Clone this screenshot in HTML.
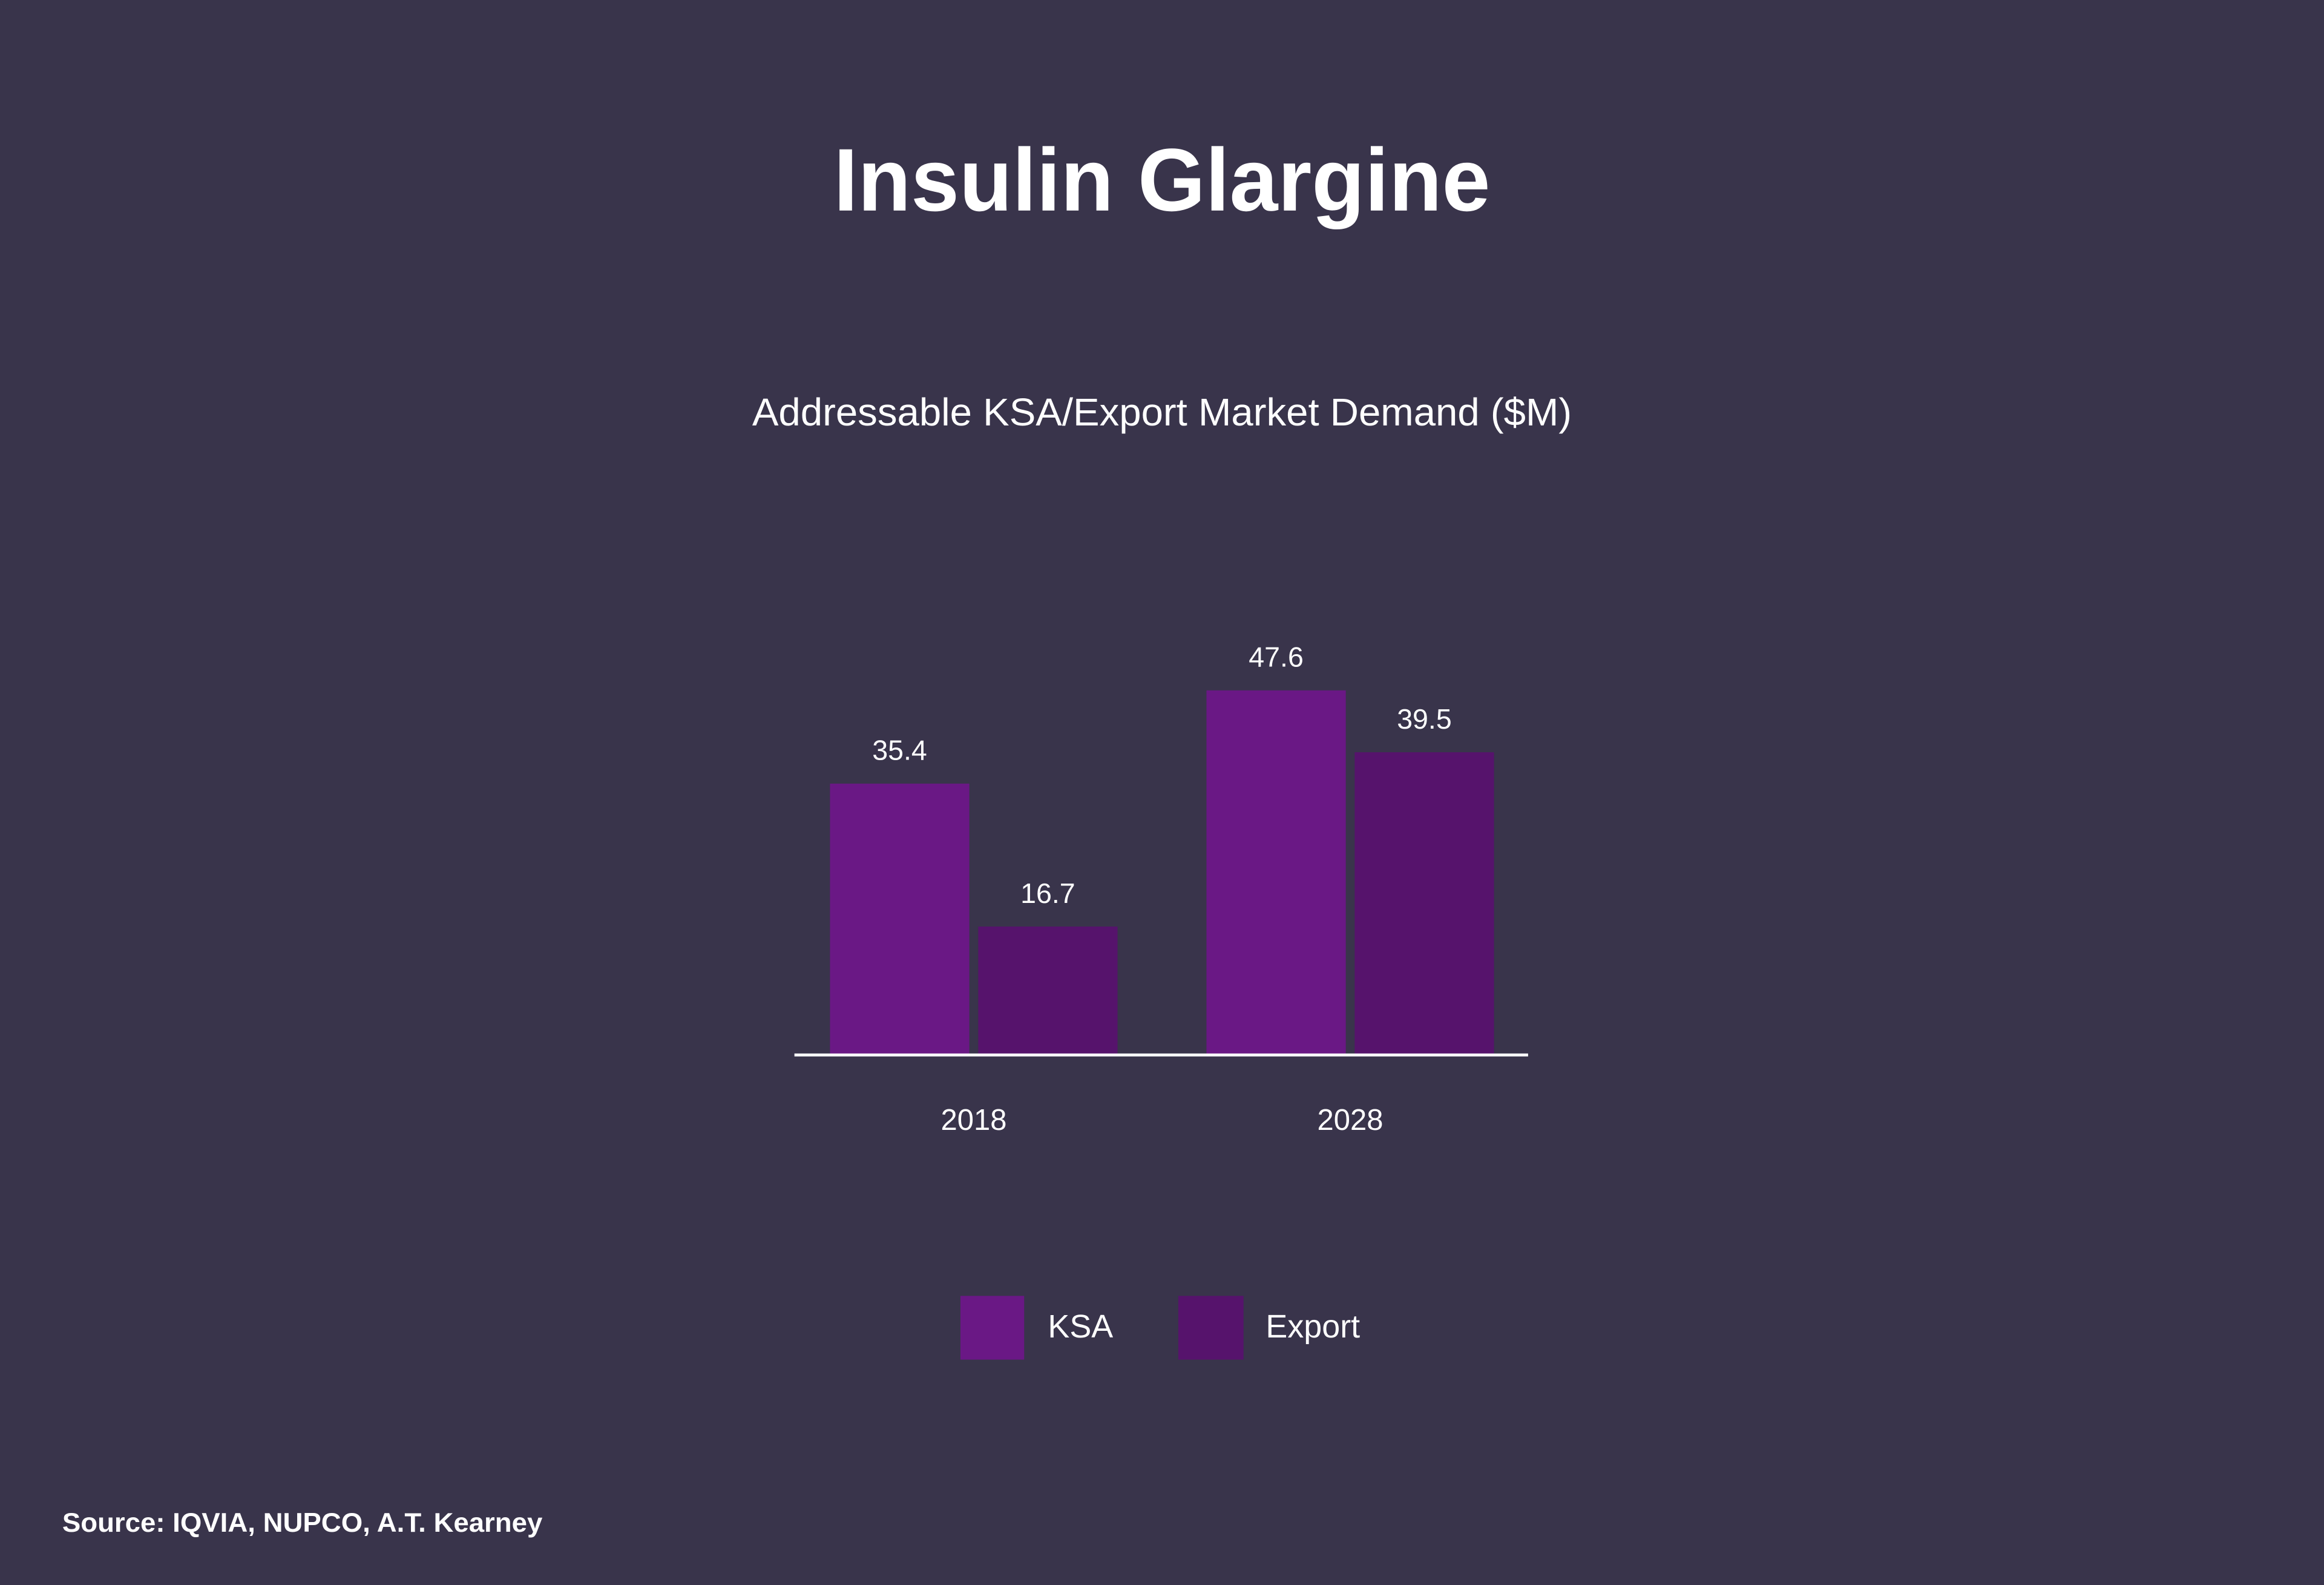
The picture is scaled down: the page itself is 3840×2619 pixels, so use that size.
<!DOCTYPE html>
<html><head><meta charset="utf-8"><style>
html,body{margin:0;padding:0;background:#39344b;}
svg{display:block;font-family:"Liberation Sans",sans-serif;}
</style></head><body>
<svg id="chart" width="3840" height="2619" viewBox="0 0 1568 1069" preserveAspectRatio="none" xmlns="http://www.w3.org/2000/svg">
<rect x="0" y="0" width="1568" height="1069" fill="#39344b"/>
<text x="784" y="142" text-anchor="middle" font-size="60" font-weight="bold" fill="#ffffff" textLength="443" lengthAdjust="spacingAndGlyphs">Insulin Glargine</text>
<text x="784" y="287" text-anchor="middle" font-size="26" fill="#ffffff" textLength="553" lengthAdjust="spacingAndGlyphs">Addressable KSA/Export Market Demand ($M)</text>
<g id="bars"></g>
<line x1="536" y1="711.5" x2="1031" y2="711.5" stroke="#ffffff" stroke-width="2"/>
<g id="legend">
<rect x="648" y="874" width="43" height="43" fill="#6a1885"/>
<text x="707" y="902" font-size="22" fill="#ffffff">KSA</text>
<rect x="795" y="874" width="44" height="43" fill="#56136c"/>
<text x="854" y="902" font-size="22" fill="#ffffff">Export</text>
</g>
<text x="42" y="1033" font-size="18" font-weight="bold" fill="#ffffff" textLength="324" lengthAdjust="spacingAndGlyphs">Source: IQVIA, NUPCO, A.T. Kearney</text>
</svg>
<script>
const categories = ["2018", "2028"];
const ksaValues = [35.4, 47.6];
const exportValues = [16.7, 39.5];
const valueLabels = [["35.4", "16.7"], ["47.6", "39.5"]];

const NS = "http://www.w3.org/2000/svg";
const baseY = 711;
const pxPerUnit = 5.155;
function yScale(v){ return baseY - v * pxPerUnit; }
function groupX(i){ return 560 + i * 254; }
const barW = 94, gap = 6;
const colors = ["#6a1885", "#56136c"];
const g = document.getElementById("bars");
categories.forEach((cat, i) => {
  const series = [ksaValues[i], exportValues[i]];
  const names = ["ksa", "export"];
  series.forEach((v, j) => {
    const x = groupX(i) + j * (barW + gap);
    const r = document.createElementNS(NS, "rect");
    r.setAttribute("x", x);
    r.setAttribute("y", yScale(v));
    r.setAttribute("width", barW);
    r.setAttribute("height", baseY - yScale(v));
    r.setAttribute("fill", colors[j]);
    
    
    g.appendChild(r);
    const t = document.createElementNS(NS, "text");
    t.setAttribute("x", x + barW / 2);
    t.setAttribute("y", yScale(v) - 16);
    t.setAttribute("text-anchor", "middle");
    t.setAttribute("font-size", "19");
    t.setAttribute("fill", "#ffffff");
    t.textContent = valueLabels[i][j];
    
    
    g.appendChild(t);
  });
  const c = document.createElementNS(NS, "text");
  c.setAttribute("x", groupX(i) + barW + gap / 2);
  c.setAttribute("y", 762);
  c.setAttribute("text-anchor", "middle");
  c.setAttribute("font-size", "20");
  c.setAttribute("fill", "#ffffff");
  c.textContent = cat;
  
  
  g.appendChild(c);
});
</script>
</body></html>
